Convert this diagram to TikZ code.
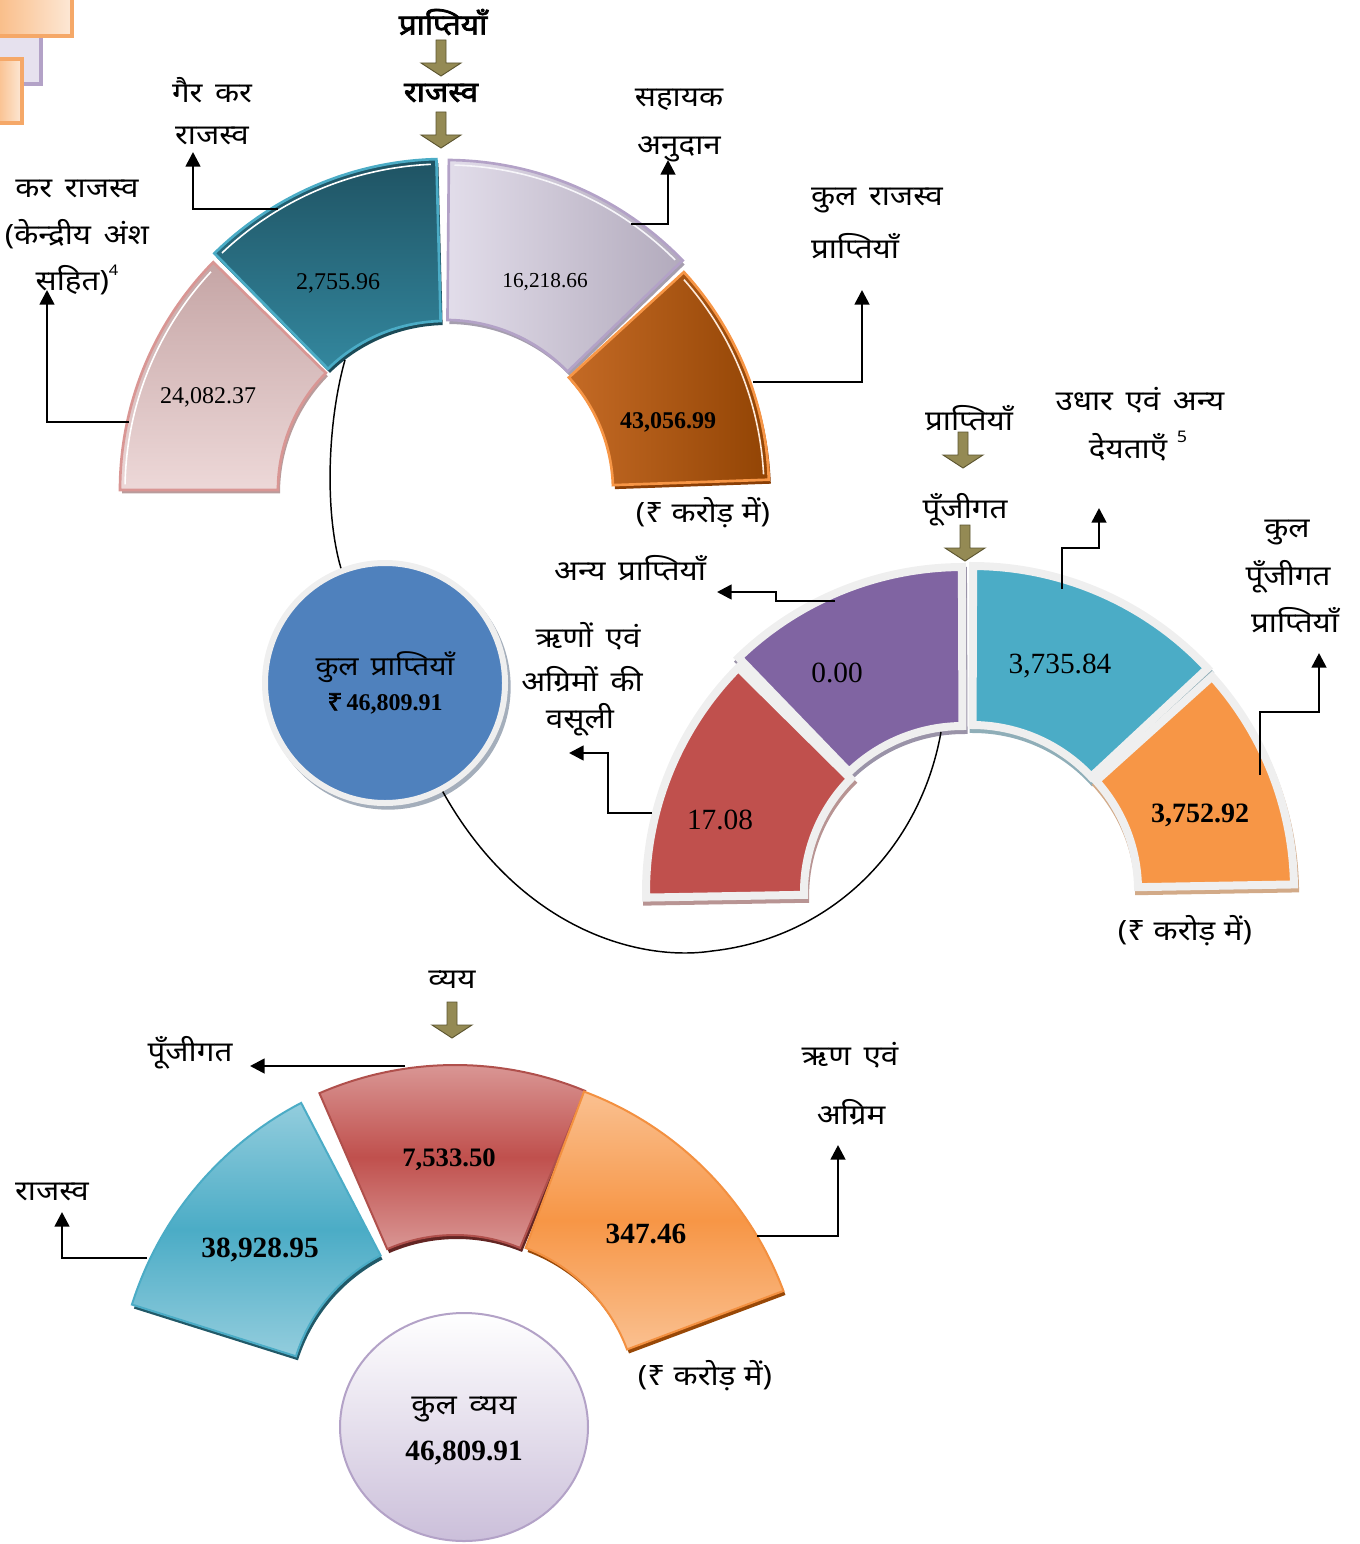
\documentclass[tikz,border=0pt]{standalone}
\usepackage{fontspec}
\setmainfont{Liberation Serif}
\newfontfamily\dev[Script=Devanagari, FakeStretch=1.12]{Noto Sans}
\newfontfamily\devb[Script=Devanagari, FakeStretch=1.1, FakeBold=2.5]{Noto Sans}
\usetikzlibrary{shapes.geometric,arrows.meta}
% top chart
\definecolor{pinkT}{HTML}{C5A5A5}\definecolor{pinkB}{HTML}{EDD8D8}\definecolor{pinkD}{HTML}{D99694}\definecolor{pinkS}{HTML}{B99C9C}
\definecolor{tealT}{HTML}{1F5363}\definecolor{tealB}{HTML}{33879E}\definecolor{tealD}{HTML}{4BACC6}\definecolor{tealS}{HTML}{1B4A57}
\definecolor{lavL}{HTML}{E2DDEA}\definecolor{lavR}{HTML}{B2AABC}\definecolor{lavD}{HTML}{B3A2C7}\definecolor{lavS}{HTML}{A59EAE}
\definecolor{brL}{HTML}{C46A25}\definecolor{brR}{HTML}{924404}\definecolor{brD}{HTML}{F79646}\definecolor{brS}{HTML}{8A3E05}
% capital chart
\definecolor{cred}{HTML}{C0504D}\definecolor{cpur}{HTML}{8064A2}\definecolor{cblu}{HTML}{4BACC6}\definecolor{cora}{HTML}{F79646}
\definecolor{cgry}{HTML}{EFEFEF}\definecolor{credS}{HTML}{B89493}\definecolor{cpurS}{HTML}{9A93A8}\definecolor{cbluS}{HTML}{8FAEB8}\definecolor{coraS}{HTML}{D2AA88}
% expenditure chart
\definecolor{ebT}{HTML}{93CDDD}\definecolor{ebM}{HTML}{4BACC6}\definecolor{ebD}{HTML}{4BACC6}\definecolor{ebS}{HTML}{215968}
\definecolor{erT}{HTML}{D99694}\definecolor{erM}{HTML}{C0504D}\definecolor{erD}{HTML}{B0504C}\definecolor{erS}{HTML}{632523}
\definecolor{eoT}{HTML}{FAC090}\definecolor{eoM}{HTML}{F79646}\definecolor{eoD}{HTML}{F39040}\definecolor{eoS}{HTML}{984807}
% misc
\definecolor{circB}{HTML}{4F81BD}\definecolor{circS}{HTML}{A4AEBB}
\definecolor{ellB}{HTML}{CBBFDA}\definecolor{ellD}{HTML}{B3A2C7}
\definecolor{olivef}{HTML}{948A54}\definecolor{olived}{HTML}{5C5530}
\definecolor{decoO}{HTML}{F5A868}\definecolor{decoOL}{HTML}{F9BC86}\definecolor{decoOR}{HTML}{FDE8D6}
\definecolor{decoL}{HTML}{E6E1EE}
\newcommand\ws{\hspace{0.45em}}
\newcommand\wn{\hspace{0.3em}}
\tikzset{
  ring/.style n args={6}{insert path={plot[variable=\t,domain=#3:#4,samples=60] ({#1+#6*cos(\t)},{#2-#6*sin(\t)}) -- plot[variable=\t,domain=#4:#3,samples=60] ({#1+#5*cos(\t)},{#2-#5*sin(\t)}) -- cycle}},
  arcp/.style n args={5}{insert path={plot[variable=\t,domain=#3:#4,samples=50] ({#1+#5*cos(\t)},{#2-#5*sin(\t)})}},
  lbl/.style={font=\dev\fontsize{21}{24}\selectfont, inner sep=0pt},
  hlbl/.style={font=\devb\fontsize{21.5}{24}\selectfont, inner sep=0pt},
  num/.style={font=\fontsize{18}{20}\selectfont, inner sep=0pt},
  bnum/.style={font=\bfseries\fontsize{18}{20}\selectfont, inner sep=0pt},
  conn/.style={line width=2pt, -{Triangle[length=11pt,width=11pt]}},
  link/.style={line width=1.1pt},
  olivearrow/.pic={\filldraw[fill=olivef, draw=olived, line width=0.7pt] (-5,-18) -- (5,-18) -- (5,5) -- (20,5) -- (0,18) -- (-20,5) -- (-5,5) -- cycle;}
}
\begin{document}
\begin{tikzpicture}[x=0.75pt,y=-0.75pt]
\useasboundingbox (0,0) rectangle (1359,1544);
% corner decoration
\draw[draw=ellD, line width=2.5pt, fill=decoL] (-5,30) rectangle (41,84);
\draw[draw=decoO, line width=2.5pt, left color=decoOL, right color=decoOR] (-5,-5) rectangle (72,36);
\draw[draw=decoO, line width=2.5pt, left color=decoOL, right color=decoOR] (-5,59) rectangle (22,123);

% ===== revenue receipts chart =====
\fill[pinkS, xshift=1.5pt, yshift=-2.5pt] [ring={445}{490}{135.5}{180}{167}{325}];
\fill[tealS, xshift=1.5pt, yshift=-3pt] [ring={445}{488}{91.5}{134.5}{167}{329}];
\fill[lavS, xshift=1.5pt, yshift=-3pt] [ring={446}{489}{44}{89.5}{169}{329}];
\fill[brS, xshift=1.5pt, yshift=-3pt] [ring={445}{491}{2}{42.5}{168}{324}];
\draw[draw=pinkD, line width=2pt, top color=pinkT, bottom color=pinkB] [ring={445}{490}{135.5}{180}{167}{325}];
\draw[draw=tealD, line width=2pt, top color=tealT, bottom color=tealB] [ring={445}{488}{91.5}{134.5}{167}{329}];
\draw[draw=lavD, line width=2pt, left color=lavL, right color=lavR] [ring={446}{489}{44}{89.5}{169}{329}];
\draw[draw=brD, line width=2pt, left color=brL, right color=brR] [ring={445}{491}{2}{42.5}{168}{324}];
\draw[white, line width=1.2pt] [arcp={445}{490}{137}{179}{320}];
\draw[white, line width=1.2pt] [arcp={445}{488}{92.5}{133.5}{324}];
\draw[white!70!lavL, line width=1.2pt] [arcp={446}{489}{45}{88.5}{324}];
\draw[white!80!brD, line width=1.2pt] [arcp={445}{491}{3}{41.5}{319}];

\node[num] (v1) at (208,397) {24,082.37};
\node[num] (v2) at (338,283) {2,755.96};
\node[num, font=\fontsize{16}{18}\selectfont] (v3) at (545,282) {16,218.66};
\node[bnum] (v4) at (668,422) {43,056.99};

\node[hlbl] (t1) at (443,22) {प्राप्तियाँ};
\pic at (441,58) {olivearrow};
\node[hlbl] (t2) at (441,93) {राजस्व};
\pic at (441,130) {olivearrow};

\node[lbl] (g1) at (212,90) {गैर\ws कर};
\node[lbl] (g2) at (212,136) {राजस्व};
\node[lbl] (k1) at (77,189) {कर\ws राजस्व};
\node[lbl] (k2) at (77,234) {(केन्द्रीय\ws अंश};
\node[lbl] (k3) at (77,280) {सहित)\raisebox{0.55em}{\fontsize{11}{11}\selectfont 4}};
\node[lbl] (s1) at (679,100) {सहायक};
\node[lbl] (s2) at (679,149) {अनुदान};
\node[lbl] (r1) at (877,201) {कुल\ws राजस्व};
\node[lbl] (r2) at (855,246) {प्राप्तियाँ};
\node[lbl] (u1) at (703,513) {(₹\wn करोड़\wn में)};

\coordinate (p1) at (129,422); \coordinate (p1e) at (47,290);
\coordinate (p2) at (278,209); \coordinate (p2e) at (193,152);
\coordinate (p3) at (631,224); \coordinate (p3e) at (668,160);
\coordinate (p4) at (753,382); \coordinate (p4e) at (862,290);
\draw[conn] (p1) -| (p1e);
\draw[conn] (p2) -| (p2e);
\draw[conn] (p3) -| (p3e);
\draw[conn] (p4) -| (p4e);

% ===== total receipts circle =====
\fill[circS] (388,687) circle[radius=92pt];
\node[circle, minimum size=180pt, inner sep=0pt, fill=circB, draw=cgry, line width=4.5pt, align=center, font=\fontsize{18}{26}\selectfont] (tot) at (385,683)
  {{\dev\fontsize{20}{26}\selectfont कुल\ws प्राप्तियाँ}\\{\devb ₹}\,{\bfseries 46,809.91}};
\coordinate (q1) at (345,360);
\draw[link] (q1) .. controls (328,420) and (324,510) .. (tot.111);

% ===== capital receipts chart =====
\draw[credS, fill=credS, line width=6pt, xshift=0.8pt, yshift=-3pt] [ring={965}{892}{135.3}{181}{161}{319}];
\draw[cpurS, fill=cpurS, line width=6pt, xshift=0.8pt, yshift=-3pt] [ring={963}{890}{90.2}{134}{164}{323}];
\draw[cbluS, fill=cbluS, line width=6pt, xshift=0.8pt, yshift=-3pt] [ring={972}{888}{43}{89.8}{163}{322}];
\draw[coraS, fill=coraS, line width=6pt, xshift=0.8pt, yshift=-3pt] [ring={975}{890}{1}{42}{163}{319}];
\draw[cgry, fill=cred, line width=6pt] [ring={965}{892}{135.3}{181}{161}{319}];
\draw[cgry, fill=cpur, line width=6pt] [ring={963}{890}{90.2}{134}{164}{323}];
\draw[cgry, fill=cblu, line width=6pt] [ring={972}{888}{43}{89.8}{163}{322}];
\draw[cgry, fill=cora, line width=6pt] [ring={975}{890}{1}{42}{163}{319}];

\node[num, font=\fontsize{22}{24}\selectfont] (w1) at (837,673) {0.00};
\node[num, font=\fontsize{22}{24}\selectfont] (w2) at (1060,666) {3,735.84};
\node[num, font=\fontsize{22}{24}\selectfont] (w3) at (720,820) {17.08};
\node[bnum, font=\bfseries\fontsize{21}{24}\selectfont] (w4) at (1200,815) {3,752.92};

\node[lbl] (c1) at (969,418) {प्राप्तियाँ};
\pic at (963,450) {olivearrow};
\node[lbl] (c2) at (965,510) {पूँजीगत};
\pic at (965,543) {olivearrow};
\node[lbl] (c3) at (1140,400) {उधार\ws एवं\ws अन्य};
\node[lbl] (c4) at (1128,447) {देयताएँ};
\node[lbl, font=\dev\fontsize{12}{12}\selectfont] (c4n) at (1182,437) {5};
\node[lbl] (c5) at (1287,533) {कुल};
\node[lbl] (c6) at (1288,577) {पूँजीगत};
\node[lbl] (c7) at (1295,620) {प्राप्तियाँ};
\node[lbl] (c8) at (630,568) {अन्य\ws प्राप्तियाँ};
\node[lbl] (c9) at (588,636) {ऋणों\ws एवं};
\node[lbl] (c10) at (582,679) {अग्रिमों\ws की};
\node[lbl] (c11) at (580,720) {वसूली};
\node[lbl] (c12) at (1185,931) {(₹\wn करोड़\wn में)};

\coordinate (d1) at (835,601);
\coordinate (d2) at (652,813);
\coordinate (d3) at (1062,589);
\coordinate (d4) at (1260,775);
\draw[conn] (d1) -- (776,601) -- (776,592) -- (717,592);
\draw[conn] (d2) -- (608,813) |- (569,753);
\draw[conn] (d3) |- (1099,548) -- (1099,508);
\draw[conn] (d4) |- (1319,712) -- (1319,653);

\coordinate (q2) at (941,732);
\draw[link] (tot.-62) .. controls (520,930) and (640,962) .. (712,951) .. controls (830,938) and (920,850) .. (q2);

% ===== expenditure chart =====
\fill[ebS, xshift=1.5pt, yshift=-3pt] [ring={460}{1408}{117.5}{162.5}{172}{344}];
\fill[erS, xshift=1.5pt, yshift=-3pt] [ring={455}{1405}{67.5}{113.5}{170}{340}];
\fill[eoS, xshift=1.5pt, yshift=-3pt] [ring={465}{1410}{20.5}{69.5}{173}{340}];
\draw[draw=ebD, line width=1.5pt, top color=ebT, bottom color=ebT, middle color=ebM] [ring={460}{1408}{117.5}{162.5}{172}{344}];
\draw[draw=erD, line width=1.5pt, top color=erT, bottom color=erT, middle color=erM] [ring={455}{1405}{67.5}{113.5}{170}{340}];
\draw[draw=eoD, line width=1.5pt, top color=eoT, bottom color=eoT, middle color=eoM] [ring={465}{1410}{20.5}{69.5}{173}{340}];

\node[bnum, font=\bfseries\fontsize{22}{24}\selectfont] (x1) at (260,1250) {38,928.95};
\node[bnum, font=\bfseries\fontsize{20}{24}\selectfont] (x2) at (449,1160) {7,533.50};
\node[bnum, font=\bfseries\fontsize{22}{24}\selectfont] (x3) at (646,1234) {347.46};

\node[lbl] (e1) at (452,980) {व्यय};
\pic at (452,1020) {olivearrow};
\node[lbl] (e2) at (190,1053) {पूँजीगत};
\node[lbl] (e3) at (52,1192) {राजस्व};
\node[lbl] (e4) at (850,1055) {ऋण\ws एवं};
\node[lbl] (e5) at (851,1112) {अग्रिम};
\node[lbl] (e6) at (705,1376) {(₹\wn करोड़\wn में)};

\coordinate (f1) at (405,1066);
\coordinate (f2) at (147,1258);
\coordinate (f3) at (757,1236);
\draw[conn] (f1) -- (250,1066);
\draw[conn] (f2) -| (62,1212);
\draw[conn] (f3) -| (838,1145);

\node[ellipse, minimum width=186pt, minimum height=171pt, inner sep=0pt, draw=ellD, line width=1.5pt, top color=white, bottom color=ellB] (tx) at (464,1427) {};
\node[align=center, inner sep=0pt, font=\bfseries\fontsize{22}{34}\selectfont] (txt) at (464,1431)
  {{\dev\mdseries\fontsize{21}{34}\selectfont कुल\ws व्यय}\\46,809.91};
\end{tikzpicture}
\end{document}
